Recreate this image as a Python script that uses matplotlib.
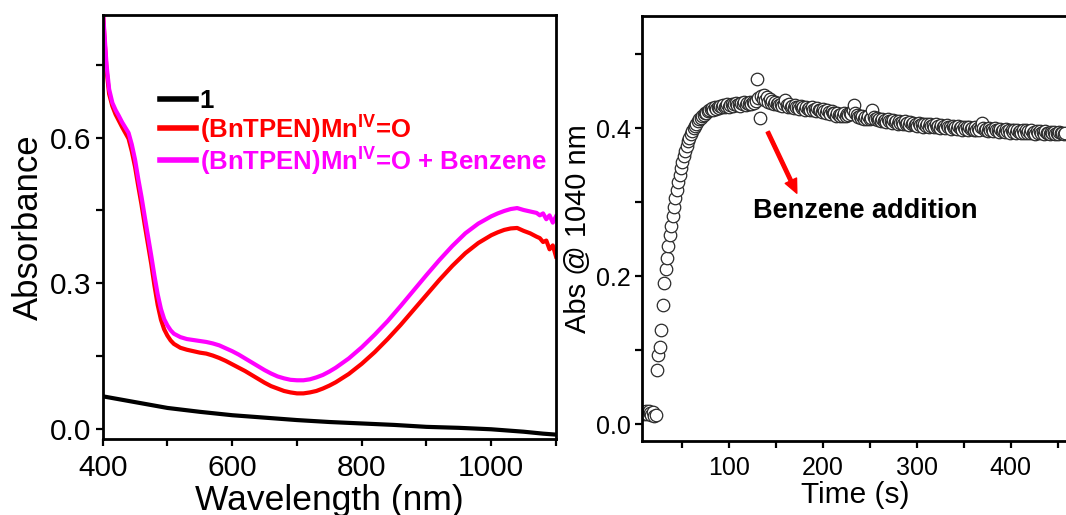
import numpy as np
import matplotlib
matplotlib.use("Agg")
import matplotlib.pyplot as plt
from matplotlib.ticker import MultipleLocator, FormatStrFormatter

plt.rcParams['font.family'] = ['Liberation Sans', 'DejaVu Sans']
plt.rcParams['mathtext.fontset'] = 'custom'
plt.rcParams['mathtext.rm'] = 'Liberation Sans'
plt.rcParams['mathtext.bf'] = 'Liberation Sans:bold'

# ---- left panel: UV-vis spectra ----
wl = [400, 403, 406, 410, 415, 420, 425, 430, 435, 440, 445, 450, 455, 460, 465, 470,
      475, 480, 485, 490, 495, 500, 505, 510, 520, 530, 540, 550, 560, 570, 580, 590,
      600, 610, 620, 630, 640, 650, 660, 670, 680, 690, 700, 710, 720, 730, 740, 750,
      760, 780, 800, 820, 840, 860, 880, 900, 920, 940, 960, 980, 1000, 1010, 1020,
      1030, 1040, 1050, 1060, 1070, 1075, 1080, 1085, 1090, 1095, 1100]
abs_mn = [0.87, 0.80, 0.74, 0.69, 0.665, 0.648, 0.635, 0.622, 0.610, 0.598, 0.572, 0.540,
          0.500, 0.462, 0.420, 0.380, 0.340, 0.295, 0.255, 0.225, 0.205, 0.192, 0.182,
          0.175, 0.167, 0.163, 0.160, 0.157, 0.155, 0.151, 0.146, 0.140, 0.133, 0.126,
          0.119, 0.111, 0.103, 0.095, 0.088, 0.083, 0.078, 0.075, 0.073, 0.073, 0.075,
          0.078, 0.083, 0.089, 0.096, 0.113, 0.134, 0.158, 0.185, 0.214, 0.245, 0.276,
          0.307, 0.336, 0.362, 0.383, 0.399, 0.405, 0.410, 0.413, 0.414, 0.408, 0.403,
          0.396, 0.393, 0.385, 0.388, 0.370, 0.378, 0.355]
abs_mn_bz = [0.87, 0.81, 0.75, 0.70, 0.672, 0.657, 0.645, 0.632, 0.621, 0.610, 0.586, 0.555,
             0.515, 0.478, 0.437, 0.397, 0.357, 0.315, 0.277, 0.247, 0.226, 0.213, 0.203,
             0.196, 0.189, 0.185, 0.183, 0.181, 0.179, 0.176, 0.172, 0.166, 0.160, 0.153,
             0.145, 0.137, 0.129, 0.121, 0.114, 0.108, 0.104, 0.101, 0.100, 0.100, 0.102,
             0.106, 0.111, 0.118, 0.126, 0.145, 0.168, 0.194, 0.222, 0.253, 0.285, 0.317,
             0.348, 0.377, 0.403, 0.423, 0.438, 0.444, 0.449, 0.453, 0.455, 0.451, 0.448,
             0.445, 0.440, 0.444, 0.432, 0.440, 0.425, 0.438]
wl_1 = [400, 450, 500, 550, 600, 650, 700, 750, 800, 850, 900, 950, 1000, 1050, 1080, 1100]
abs_1 = [0.067, 0.055, 0.043, 0.035, 0.028, 0.023, 0.018, 0.014, 0.011, 0.008, 0.004,
         0.002, -0.001, -0.006, -0.010, -0.012]

# ---- right panel: kinetic trace at 1040 nm (sampled every 1.5 s from 8 s) ----
abs_1040 = [
    0.016, 0.014, 0.018, 0.013, 0.017, 0.015, 0.012, 0.016, 0.011, 0.012,
    0.073, 0.093, 0.104, 0.127, 0.161, 0.190, 0.209, 0.225, 0.241, 0.255,
    0.268, 0.281, 0.293, 0.305, 0.316, 0.327, 0.337, 0.346, 0.354, 0.362,
    0.369, 0.376, 0.382, 0.387, 0.392, 0.396, 0.400, 0.403, 0.406, 0.409,
    0.412, 0.414, 0.416, 0.418, 0.420, 0.421, 0.423, 0.424, 0.426,
    0.427, 0.425, 0.428, 0.426, 0.429, 0.427, 0.430, 0.428, 0.431, 0.429,
    0.430, 0.432, 0.429, 0.431, 0.433, 0.430, 0.432, 0.434, 0.431, 0.433,
    0.430, 0.434, 0.432, 0.435, 0.431, 0.434, 0.432, 0.435, 0.433, 0.436,
    0.434, 0.437,
    0.466, 0.441, 0.414, 0.444, 0.440, 0.445, 0.438, 0.442, 0.436, 0.439,
    0.434, 0.437, 0.433, 0.435, 0.432, 0.434, 0.431, 0.433, 0.430, 0.432, 0.438,
    0.431, 0.429, 0.432, 0.428, 0.430, 0.427, 0.431, 0.428, 0.429, 0.426,
    0.430, 0.427, 0.428, 0.425, 0.429, 0.426, 0.427, 0.424, 0.428, 0.425,
    0.426, 0.423, 0.427, 0.424, 0.425, 0.422, 0.426, 0.423, 0.421, 0.424,
    0.422, 0.419, 0.423, 0.420, 0.421, 0.417, 0.420, 0.418, 0.416, 0.419,
    0.417, 0.420, 0.416, 0.419, 0.418, 0.421, 0.419, 0.424, 0.431, 0.420,
    0.418, 0.415, 0.417, 0.414, 0.416, 0.413, 0.415, 0.412, 0.416, 0.413,
    0.414, 0.424, 0.415, 0.412, 0.414, 0.411, 0.413, 0.410, 0.412, 0.409,
    0.411, 0.408, 0.412, 0.409, 0.410, 0.407, 0.411, 0.408, 0.409, 0.406,
    0.410, 0.407, 0.408, 0.405, 0.409, 0.406, 0.407, 0.404, 0.408, 0.405,
    0.407, 0.404, 0.406, 0.403, 0.407, 0.404, 0.405, 0.402, 0.406, 0.403,
    0.405, 0.402, 0.406, 0.403, 0.404, 0.401, 0.405, 0.402, 0.403, 0.400,
    0.404, 0.401, 0.403, 0.400, 0.404, 0.401, 0.402, 0.399, 0.403, 0.400,
    0.402, 0.399, 0.403, 0.400, 0.401, 0.398, 0.402, 0.399, 0.401, 0.398,
    0.402, 0.399, 0.400, 0.397, 0.401, 0.398, 0.400, 0.397, 0.401, 0.407,
    0.400, 0.397, 0.399, 0.396, 0.400, 0.397, 0.399, 0.396, 0.400, 0.397,
    0.398, 0.395, 0.399, 0.396, 0.398, 0.395, 0.399, 0.396, 0.397, 0.394,
    0.398, 0.395, 0.397, 0.394, 0.398, 0.395, 0.396, 0.393, 0.397, 0.394,
    0.397, 0.394, 0.396, 0.393, 0.397, 0.394, 0.395, 0.392, 0.396, 0.393,
    0.396, 0.393, 0.395, 0.392, 0.396, 0.393, 0.394, 0.392, 0.395, 0.393,
    0.395, 0.392, 0.394, 0.392, 0.395, 0.393, 0.394, 0.392, 0.394]
time_s = 8 + 1.5 * np.arange(len(abs_1040))

labels = ['1', r'(BnTPEN)Mn$^{\mathbf{IV}}$=O', r'(BnTPEN)Mn$^{\mathbf{IV}}$=O + Benzene']
colors = ['black', '#ff0000', '#ff00ff']

fig = plt.figure(figsize=(10.66, 5.15), dpi=100)
ax1 = fig.add_axes([0.0963, 0.1476, 0.4253, 0.8233])
ax2 = fig.add_axes([0.6025, 0.1443, 0.3988, 0.8252])


def style(ax, tsize):
    for s in ax.spines.values():
        s.set_linewidth(2.0)
    ax.tick_params(which='both', direction='out', width=1.6, top=False, right=False,
                   labelsize=tsize, length=5)
    ax.tick_params(axis='x', pad=6)
    ax.tick_params(axis='y', pad=3)


ax1.plot(wl_1, abs_1, color=colors[0], lw=3, label=labels[0])
ax1.plot(wl, abs_mn, color=colors[1], lw=3, label=labels[1])
ax1.plot(wl, abs_mn_bz, color=colors[2], lw=3, label=labels[2])
ax1.set_xlim(400, 1100)
ax1.set_ylim(-0.021, 0.853)
ax1.xaxis.set_major_locator(MultipleLocator(200))
ax1.xaxis.set_minor_locator(MultipleLocator(100))
ax1.yaxis.set_major_locator(MultipleLocator(0.3))
ax1.yaxis.set_minor_locator(MultipleLocator(0.15))
ax1.yaxis.set_major_formatter(FormatStrFormatter('%.1f'))
style(ax1, 21.5)
ax1.set_xlabel('Wavelength (nm)', fontsize=25.5, labelpad=1)
ax1.set_ylabel('Absorbance', fontsize=25, labelpad=4)
leg = ax1.legend(loc='upper left', bbox_to_anchor=(0.126, 0.826), frameon=False,
                 borderaxespad=0, borderpad=0, handlelength=1.4, handletextpad=0.15,
                 labelspacing=-0.04, prop={'weight': 'bold', 'size': 18.5},
                 labelcolor='linecolor')
for h in leg.get_lines():
    h.set_linewidth(4)

ax2.plot(time_s, abs_1040, 'o', mfc='white', mec='#2a2a2a', mew=0.9, ms=9)
ax2.set_xlim(7.2, 460.5)
ax2.set_ylim(-0.0225, 0.552)
ax2.xaxis.set_major_locator(MultipleLocator(100))
ax2.xaxis.set_minor_locator(MultipleLocator(50))
ax2.yaxis.set_major_locator(MultipleLocator(0.2))
ax2.yaxis.set_minor_locator(MultipleLocator(0.1))
ax2.yaxis.set_major_formatter(FormatStrFormatter('%.1f'))
style(ax2, 18)
ax2.set_xlabel('Time (s)', fontsize=21.5, labelpad=1)
ax2.set_ylabel('Abs @ 1040 nm', fontsize=21)
ax2.yaxis.set_label_coords(-0.118, 0.5)
ax2.annotate('', xy=(172, 0.312), xytext=(141, 0.395),
             arrowprops=dict(color='#ff0000', width=2.5, headwidth=9, headlength=10, shrink=0))
ax2.text(125, 0.288, 'Benzene addition', fontsize=19.5, fontweight='bold', va='center', ha='left')

fig.savefig('out.png', dpi=100)
